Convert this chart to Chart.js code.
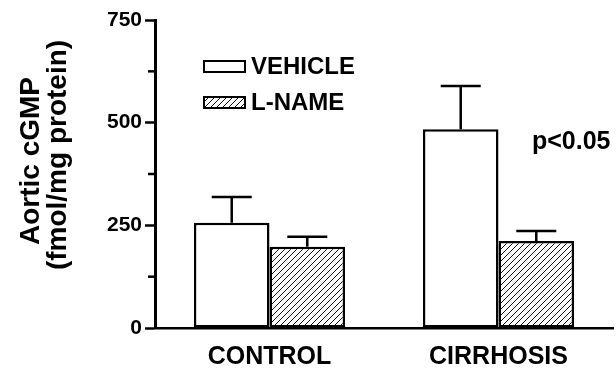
<!DOCTYPE html>
<html>
<head>
<meta charset="utf-8">
<script src="https://cdn.jsdelivr.net/npm/chart.js@4.4.0/dist/chart.umd.min.js"></script>
<style>
  html, body { margin: 0; padding: 0; background: #fff; }
  #wrap { width: 616px; height: 368px; }
</style>
</head>
<body>
<div id="wrap"><canvas id="cgmpChart"></canvas></div>
<script>
// Données
const categories = ['CONTROL', 'CIRRHOSIS'];
const vehicle = [256, 484];
const vehicleErr = [63, 105];
const lname = [198, 212];
const lnameErr = [24, 24];
const yTicksMajor = [0, 250, 500, 750];
const yTicksMinor = [125, 375, 625];
const yTitle = ['Aortic cGMP', '(fmol/mg protein)'];
const legendLabels = ['VEHICLE', 'L-NAME'];
const annotation = 'p<0.05';

const FONT = '"Liberation Sans", Arial, Helvetica, sans-serif';

// motif hachuré "/"
function hachures() {
    const c = document.createElement('canvas');
    c.width = 6; c.height = 6;
    const g = c.getContext('2d');
    g.fillStyle = '#fff';
    g.fillRect(0, 0, 6, 6);
    g.strokeStyle = '#111';
    g.lineWidth = 1;
    g.beginPath();
    g.moveTo(0, 6); g.lineTo(6, 0);
    g.moveTo(-1, 1); g.lineTo(1, -1);
    g.moveTo(5, 7); g.lineTo(7, 5);
    g.stroke();
    return g.createPattern(c, 'repeat');
}
const hatch = hachures();

// barres d'erreur (vers le haut seulement), petites graduations, titre, légende, texte
const extras = {
    id: 'extras',
    afterDatasetsDraw(chart) {
        const ctx = chart.ctx;
        const y = chart.scales.y;
        const errs = [vehicleErr, lnameErr];
        ctx.save();
        ctx.strokeStyle = '#000';
        ctx.lineWidth = 2.5;
        chart.data.datasets.forEach((ds, i) => {
            chart.getDatasetMeta(i).data.forEach((bar, j) => {
                const top = y.getPixelForValue(ds.data[j]);
                const end = y.getPixelForValue(ds.data[j] + errs[i][j]);
                ctx.beginPath();
                ctx.moveTo(bar.x, top);
                ctx.lineTo(bar.x, end);
                ctx.moveTo(bar.x - 20, end);
                ctx.lineTo(bar.x + 20, end);
                ctx.stroke();
            });
        });
        // graduations mineures
        const left = chart.chartArea.left;
        yTicksMinor.forEach(v => {
            const py = y.getPixelForValue(v);
            ctx.beginPath();
            ctx.moveTo(left - 7, py);
            ctx.lineTo(left, py);
            ctx.stroke();
        });
        // titre de l'axe Y (deux lignes, tourné)
        ctx.fillStyle = '#000';
        ctx.font = 'bold 28px ' + FONT;
        ctx.textAlign = 'center';
        ctx.textBaseline = 'middle';
        [[31, 161], [58, 155]].forEach((p, i) => {
            ctx.save();
            ctx.translate(p[0], p[1]);
            ctx.rotate(-Math.PI / 2);
            ctx.fillText(yTitle[i], 0, 0);
            ctx.restore();
        });
        // légende
        ctx.lineWidth = 2;
        const fills = ['#fff', hatch];
        legendLabels.forEach((lab, i) => {
            const ly = 61 + i * 36;
            ctx.fillStyle = fills[i];
            ctx.fillRect(204, ly, 41, 11);
            ctx.strokeRect(204, ly, 41, 11);
            ctx.fillStyle = '#000';
            ctx.font = 'bold 24px ' + FONT;
            ctx.textBaseline = 'middle';
            ctx.textAlign = 'left';
            ctx.fillText(lab, 251, ly + 6);
        });
        ctx.font = 'bold 25px ' + FONT;
        ctx.textBaseline = 'middle';
        ctx.fillText(annotation, 532, 142);
        ctx.restore();
    }
};

new Chart(document.getElementById('cgmpChart'), {
    type: 'bar',
    data: {
        labels: categories,
        datasets: [
            {
                label: legendLabels[0],
                data: vehicle,
                backgroundColor: '#fff',
                borderColor: '#000',
                borderWidth: 2.5,
                borderSkipped: false
            },
            {
                label: legendLabels[1],
                data: lname,
                backgroundColor: hatch,
                borderColor: '#000',
                borderWidth: 2.5,
                borderSkipped: false
            }
        ]
    },
    plugins: [extras],
    options: {
        responsive: true,
        maintainAspectRatio: false,
        animation: false,
        layout: { padding: { top: 20, right: 3, left: 0, bottom: 0 } },
        datasets: { bar: { categoryPercentage: 0.66, barPercentage: 1.0 } },
        plugins: {
            legend: { display: false },
            tooltip: { enabled: false }
        },
        scales: {
            x: {
                grid: { display: false },
                border: { color: '#000', width: 2.5 },
                ticks: {
                    color: '#000',
                    padding: 6,
                    font: { family: FONT, size: 25, weight: 'bold' }
                },
                afterFit: s => { s.height = 40; }
            },
            y: {
                min: 0,
                max: 750,
                afterBuildTicks: s => { s.ticks = yTicksMajor.map(v => ({ value: v })); },
                grid: {
                    drawOnChartArea: false,
                    tickLength: 10,
                    tickColor: '#000',
                    tickWidth: 2.5
                },
                border: { color: '#000', width: 3 },
                ticks: {
                    color: '#000',
                    padding: 3,
                    font: { family: FONT, size: 21, weight: 'bold' }
                },
                afterFit: s => { s.width = 155; }
            }
        }
    }
});
</script>
</body>
</html>
